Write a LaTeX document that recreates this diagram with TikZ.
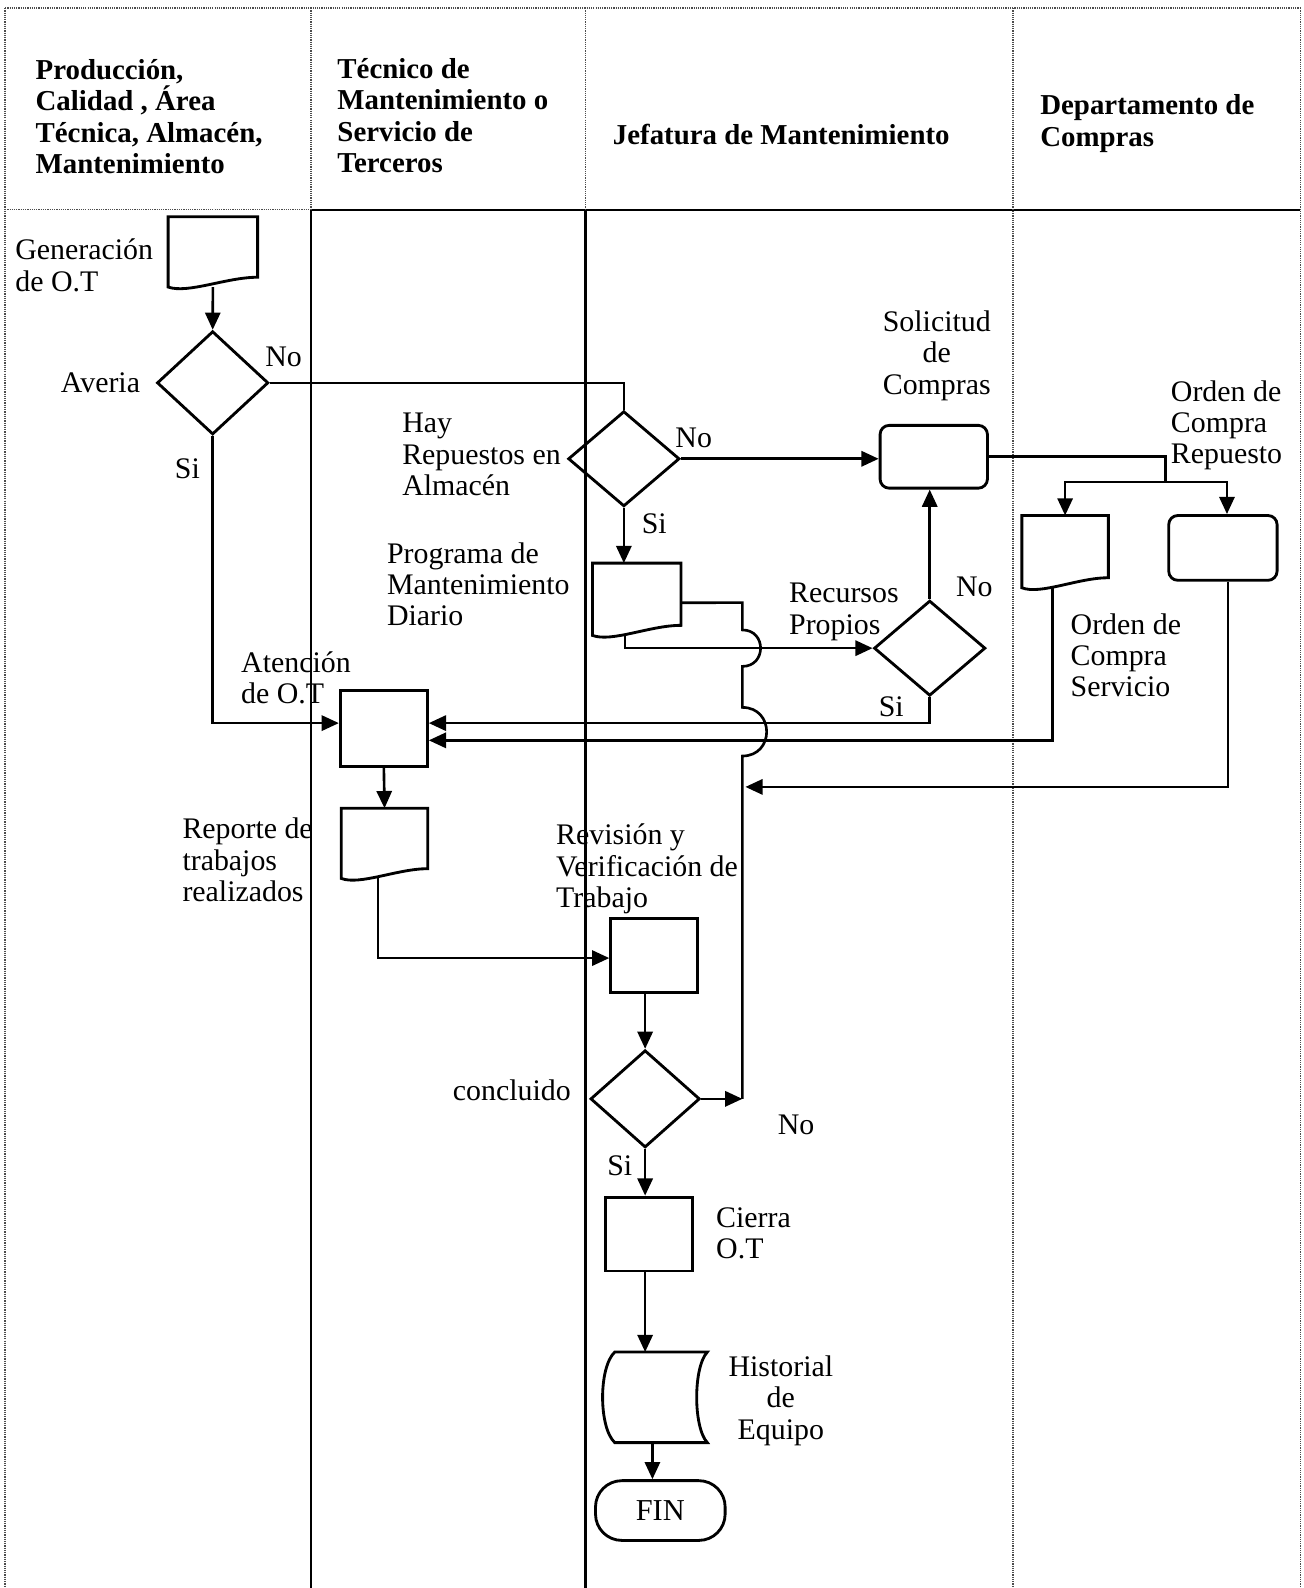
\documentclass[tikz,border=0pt]{standalone}
\usepackage{fontspec}
\setmainfont{Liberation Serif}
\usetikzlibrary{arrows.meta,shapes.geometric,calc}

\tikzset{
 lbl/.style={inner sep=0pt, align=left, font=\fontsize{29.5}{31}\selectfont},
 clbl/.style={inner sep=0pt, align=center, font=\fontsize{29.5}{31}\selectfont},
 hdr/.style={inner sep=0pt, align=left, font=\fontsize{28.5}{31}\selectfont\bfseries},
 shp/.style={draw, line width=2.8pt, inner sep=0pt},
 dia/.style={shp, diamond},
 box/.style={shp, rectangle},
 rbox/.style={shp, rectangle, rounded corners=9pt},
 conn/.style={line width=2.6pt},
 arr/.style={conn, -{Triangle[length=17pt,width=15pt]}},
 ghost/.style={rectangle, inner sep=0pt, draw=none},
 dotl/.style={line width=1.5pt, draw=black!70, dash pattern=on 1.2pt off 1pt},
 shapeline/.style={line width=2.8pt, line join=miter},
}

\newcommand\docnode[5]{%
 \node[ghost, anchor=north west, minimum width=#4pt, minimum height=#5pt] (#1) at (#2,#3) {};
 \draw[shapeline] (#1.north west) -- (#1.north east) -- ([yshift=0.14*#5pt]#1.south east)
   .. controls ([xshift=-0.35*#4pt, yshift=0.14*#5pt]#1.south east) and ([xshift=0.22*#4pt, yshift=-0.1*#5pt]#1.south west) ..
   (#1.south west) -- cycle;
}

\begin{document}
\begin{tikzpicture}[x=1pt,y=-1pt]
\useasboundingbox (0,0) rectangle (1287,1568);

% ---- swimlanes ----
\draw[dotl] (5,8) -- (1284,8);
\draw[dotl] (5,8) -- (5,1568);
\draw[dotl] (1284,8) -- (1284,1568);
\draw[dotl] (5,207) -- (307,207);
\draw[line width=2pt] (307,207) -- (1284,207);
\draw[dotl] (307,8) -- (307,207);
\draw[line width=1.7pt] (307,207) -- (307,1568);
\draw[dotl] (578,8) -- (578,207);
\draw[line width=2.6pt] (578,207) -- (578,1568);
\draw[dotl] (1000,8) -- (1000,1568);

% ---- headers ----
\node[hdr, anchor=west] (h1) at (35,115) {Producción,\\Calidad , Área\\Técnica, Almacén,\\Mantenimiento};
\node[hdr, anchor=west] (h2) at (333,114) {Técnico de\\Mantenimiento o\\Servicio de\\Terceros};
\node[hdr, anchor=west] (h3) at (605,133) {Jefatura de Mantenimiento};
\node[hdr, anchor=west] (h4) at (1027,122) {Departamento de\\Compras};

% ---- shapes ----
\docnode{gen}{166}{214}{88}{69}
\node[dia, minimum width=110pt, minimum height=102pt] (averia) at (210,378) {};
\node[dia, minimum width=110pt, minimum height=94pt] (hay) at (616,453) {};
\node[rbox, minimum width=106pt, minimum height=62pt] (sol) at (922,451) {};
\docnode{prog}{585}{556}{87}{71}
\node[dia, minimum width=110pt, minimum height=94pt] (rec) at (918,640) {};
\docnode{serv}{1009}{509}{85}{71}
\node[rbox, minimum width=107pt, minimum height=64pt] (rep) at (1207.5,541) {};
\node[box, minimum width=86pt, minimum height=75pt] (aten) at (379,719.5) {};
\docnode{repo}{337}{798}{85}{69}
\node[box, minimum width=86pt, minimum height=73pt] (rev) at (646,943.5) {};
\node[dia, minimum width=108pt, minimum height=96pt] (conc) at (637,1085) {};
\node[box, minimum width=86pt, minimum height=73pt] (cierra) at (641,1218.5) {};
\node[ghost, anchor=north west, minimum width=103pt, minimum height=89pt] (hist) at (595,1335) {};
\draw[shapeline] ([xshift=12pt]hist.north west) -- (hist.north east)
  .. controls ([xshift=-14pt,yshift=-15pt]hist.north east) and ([xshift=-14pt,yshift=15pt]hist.south east) .. (hist.south east)
  -- ([xshift=12pt]hist.south west)
  .. controls ([xshift=-4pt,yshift=15pt]hist.south west) and ([xshift=-4pt,yshift=-15pt]hist.north west) .. ([xshift=12pt]hist.north west) -- cycle;
\node[shp, rectangle, rounded corners=26pt, minimum width=128pt, minimum height=59pt, font=\fontsize{30}{31}\selectfont] (fin) at (652,1491.5) {FIN};

% ---- labels ----
\node[lbl, anchor=west] (lgen) at (15,262) {Generación\\de O.T};
\node[lbl, anchor=west] (lav) at (60,378) {Averia};
\node[lbl] (lno1) at (280,352) {No};
\node[lbl] (lsi1) at (185,463) {Si};
\node[clbl] (lsol) at (925,351) {Solicitud\\de\\Compras};
\node[lbl, anchor=west] (lhay) at (397,449) {Hay\\Repuestos en\\Almacén};
\node[lbl] (lno2) at (685,432) {No};
\node[lbl] (lsi2) at (646,517) {Si};
\node[lbl, anchor=west] (lrep) at (1156,420) {Orden de\\Compra\\Repuesto};
\node[lbl, anchor=west] (lprog) at (382,577) {Programa de\\Mantenimiento\\Diario};
\node[lbl, anchor=west] (lrec) at (779,604) {Recursos\\Propios};
\node[lbl] (lno3) at (962,579) {No};
\node[lbl] (lsi3) at (880,698) {Si};
\node[lbl, anchor=west] (lserv) at (1057,647) {Orden de\\Compra\\Servicio};
\node[lbl, anchor=west] (laten) at (238,669) {Atención\\de O.T};
\node[lbl, anchor=west] (lrepo) at (180,849) {Reporte de\\trabajos\\realizados};
\node[lbl, anchor=west] (lrev) at (549,858) {Revisión y\\Verificación de\\Trabajo};
\node[lbl, anchor=west] (lconc) at (447,1077) {concluido};
\node[lbl] (lno4) at (786,1111) {No};
\node[lbl] (lsi4) at (612,1151) {Si};
\node[lbl, anchor=west] (lcie) at (707,1218) {Cierra\\O.T};
\node[clbl] (lhist) at (771,1383) {Historial\\de\\Equipo};

% ---- helper coordinates ----
\coordinate (loopTop) at (733,595);
\coordinate (concjoin) at (733,1085);
\coordinate (b1) at (loopTop |- rec.west);
\coordinate (b2) at (733,722.5);
\coordinate (split) at (1151,476);
\coordinate (rephit) at (736,777);

% ---- connectors ----
\draw[arr] (gen.south) -- (averia.north);
\draw[conn] (averia.east) -| (hay.north);
\draw[arr] (averia.south) |- ([yshift=5.5pt]aten.west);
\draw[arr] (hay.east) -- (hay.east -| sol.west);
\draw[arr] (hay.south) -- (hay.south |- prog.north);
\draw[arr] ([xshift=-11.5pt]prog.south) |- (rec.west);
\draw[arr] (rec.north) -- (rec.north |- sol.south);
\draw[arr] (rec.south) |- ([yshift=5.5pt]aten.east);
\draw[conn] (sol.east) -| (split);
\draw[arr] (split) -| (serv.north);
\draw[arr] (split) -| ([xshift=4pt]rep.north);
\draw[arr] ([xshift=-12.5pt]serv.south) |- ([yshift=-11.5pt]aten.east);
\draw[arr] ([xshift=5pt]rep.south) |- (rephit);
\draw[arr] (aten.south) -- (repo.north);
\draw[arr] ([xshift=-6.5pt]repo.south) |- ([yshift=-2.5pt]rev.west);
\draw[arr] (conc.north |- rev.south) -- (conc.north);
\draw[arr] (conc.east) -- (concjoin);
\draw[arr] (conc.south) -- (conc.south |- cierra.north);
\draw[arr] ([xshift=-4pt]cierra.south) -- ([xshift=-4pt]cierra.south |- hist.north);
\draw[arr] ([xshift=-2.5pt]hist.south) -- ([xshift=-2.5pt]hist.south |- fin.north);
% loop back to Programa with line jumps
\draw[conn] ([yshift=-3.5pt]prog.east) -- (loopTop) -- ([yshift=18pt]b1)
  .. controls ([xshift=24pt,yshift=18pt]b1) and ([xshift=24pt,yshift=-18pt]b1) .. ([yshift=-18pt]b1)
  -- ([yshift=24pt]b2)
  .. controls ([xshift=32pt,yshift=24pt]b2) and ([xshift=32pt,yshift=-24pt]b2) .. ([yshift=-24pt]b2)
  -- (concjoin);
\end{tikzpicture}
\end{document}
